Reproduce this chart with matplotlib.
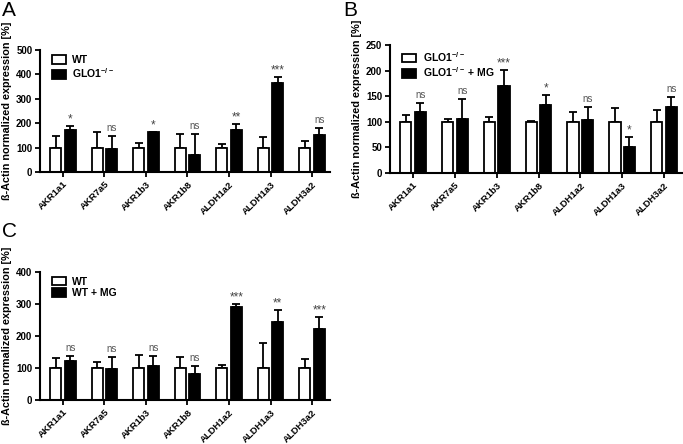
import matplotlib
matplotlib.use("Agg")
import matplotlib.pyplot as plt
import numpy as np

plt.rcParams['font.family'] = ['Liberation Sans', 'DejaVu Sans']
plt.rcParams['mathtext.fontset'] = 'custom'
plt.rcParams['mathtext.rm'] = 'Liberation Sans:bold'
plt.rcParams['mathtext.bf'] = 'Liberation Sans:bold'

genes = ['AKR1a1', 'AKR7a5', 'AKR1b3', 'AKR1b8', 'ALDH1a2', 'ALDH1a3', 'ALDH3a2']

# Panel A: WT vs GLO1-/-
a_wt = [100, 100, 100, 100, 100, 100, 100]
a_wt_err = [47, 65, 20, 55, 16, 44, 26]
a_ko = [174, 96, 163, 70, 174, 363, 152]
a_ko_err = [15, 52, 2, 84, 22, 25, 29]
a_sig = ['*', 'ns', '*', 'ns', '**', '***', 'ns']

# Panel B: GLO1-/- vs GLO1-/- + MG
b_ko = [100, 100, 100, 100, 100, 100, 100]
b_ko_err = [14, 6, 10, 1, 20, 27, 24]
b_mg = [120, 106, 170, 132, 104, 51, 129]
b_mg_err = [16, 38, 31, 21, 25, 20, 20]
b_sig = ['ns', 'ns', '***', '*', 'ns', '*', 'ns']

# Panel C: WT vs WT + MG
c_wt = [100, 100, 100, 100, 100, 100, 100]
c_wt_err = [30, 18, 40, 33, 10, 79, 28]
c_mg = [121, 98, 106, 80, 291, 245, 223]
c_mg_err = [17, 37, 30, 25, 9, 36, 35]
c_sig = ['ns', 'ns', 'ns', 'ns', '***', '**', '***']

W, H = 683, 444
fig = plt.figure(figsize=(W / 100, H / 100), dpi=100)


def px_axes(x0, x1, ytop, ybot):
    return fig.add_axes([x0 / W, 1 - ybot / H, (x1 - x0) / W, (ybot - ytop) / H])


def panel(ax, white, white_err, black, black_err, sig, ymax, step, labels):
    x = np.arange(len(genes))
    bw = 0.27
    off = 0.175
    lw = 1.3
    ax.bar(x - off, white, bw, color='white', edgecolor='black', linewidth=lw,
           label=labels[0], zorder=2)
    ax.bar(x + off, black, bw, color='black', edgecolor='black', linewidth=lw,
           label=labels[1], zorder=2)
    ax.errorbar(x - off, white, yerr=[np.zeros(len(x)), white_err], fmt='none',
                ecolor='black', elinewidth=lw, capsize=3, capthick=lw, zorder=1)
    ax.errorbar(x + off, black, yerr=[np.zeros(len(x)), black_err], fmt='none',
                ecolor='black', elinewidth=lw, capsize=3, capthick=lw, zorder=1)
    for i, s in enumerate(sig):
        top = black[i] + black_err[i]
        if s == 'ns':
            ax.text(x[i] + off, top + ymax * 0.025, s, ha='center', va='bottom',
                    fontsize=7, color='#555555')
        else:
            ax.text(x[i] + off, top + ymax * 0.005, s, ha='center', va='bottom',
                    fontsize=8.5, color='#444444')
    ax.set_xlim(-0.55, len(genes) - 0.57)
    ax.set_ylim(0, ymax)
    ax.set_yticks(np.arange(0, ymax + 1, step))
    ax.set_xticks(x)
    ax.set_xticklabels(genes, rotation=45, ha='right', rotation_mode='anchor',
                       fontsize=6.8, fontweight='bold')
    for t in ax.get_yticklabels():
        t.set_fontweight('bold')
        t.set_fontsize(7)
    ax.tick_params(axis='both', width=1.3, length=3.5, pad=2)
    ax.spines['top'].set_visible(False)
    ax.spines['right'].set_visible(False)
    ax.spines['left'].set_linewidth(1.5)
    ax.spines['bottom'].set_linewidth(1.5)
    ax.set_ylabel('ß-Actin normalized expression [%]', fontsize=7.8,
                  fontweight='bold', labelpad=3)
    leg = ax.legend(loc='upper left', frameon=False, fontsize=7.5,
                    handlelength=1.4, handleheight=0.9, borderaxespad=0.3,
                    labelspacing=0.15, handletextpad=0.6,
                    bbox_to_anchor=(0.015, 1.02))
    for t in leg.get_texts():
        t.set_fontweight('bold')


sup = '$^{\\mathrm{-/-}}$'

axA = px_axes(40, 330, 50, 172)
panel(axA, a_wt, a_wt_err, a_ko, a_ko_err, a_sig, 500, 100,
      ['WT', 'GLO1' + sup])

axB = px_axes(390, 682, 45, 173)
panel(axB, b_ko, b_ko_err, b_mg, b_mg_err, b_sig, 250, 50,
      ['GLO1' + sup, 'GLO1' + sup + ' + MG'])

axC = px_axes(40, 330, 272, 400)
panel(axC, c_wt, c_wt_err, c_mg, c_mg_err, c_sig, 400, 100,
      ['WT', 'WT + MG'])

fig.text(2 / W, 1 - 1 / H, 'A', fontsize=15, va='top', ha='left')
fig.text(343 / W, 1 - 1 / H, 'B', fontsize=15, va='top', ha='left')
fig.text(2 / W, 1 - 222 / H, 'C', fontsize=15, va='top', ha='left')

fig.savefig('out.png', dpi=100)
